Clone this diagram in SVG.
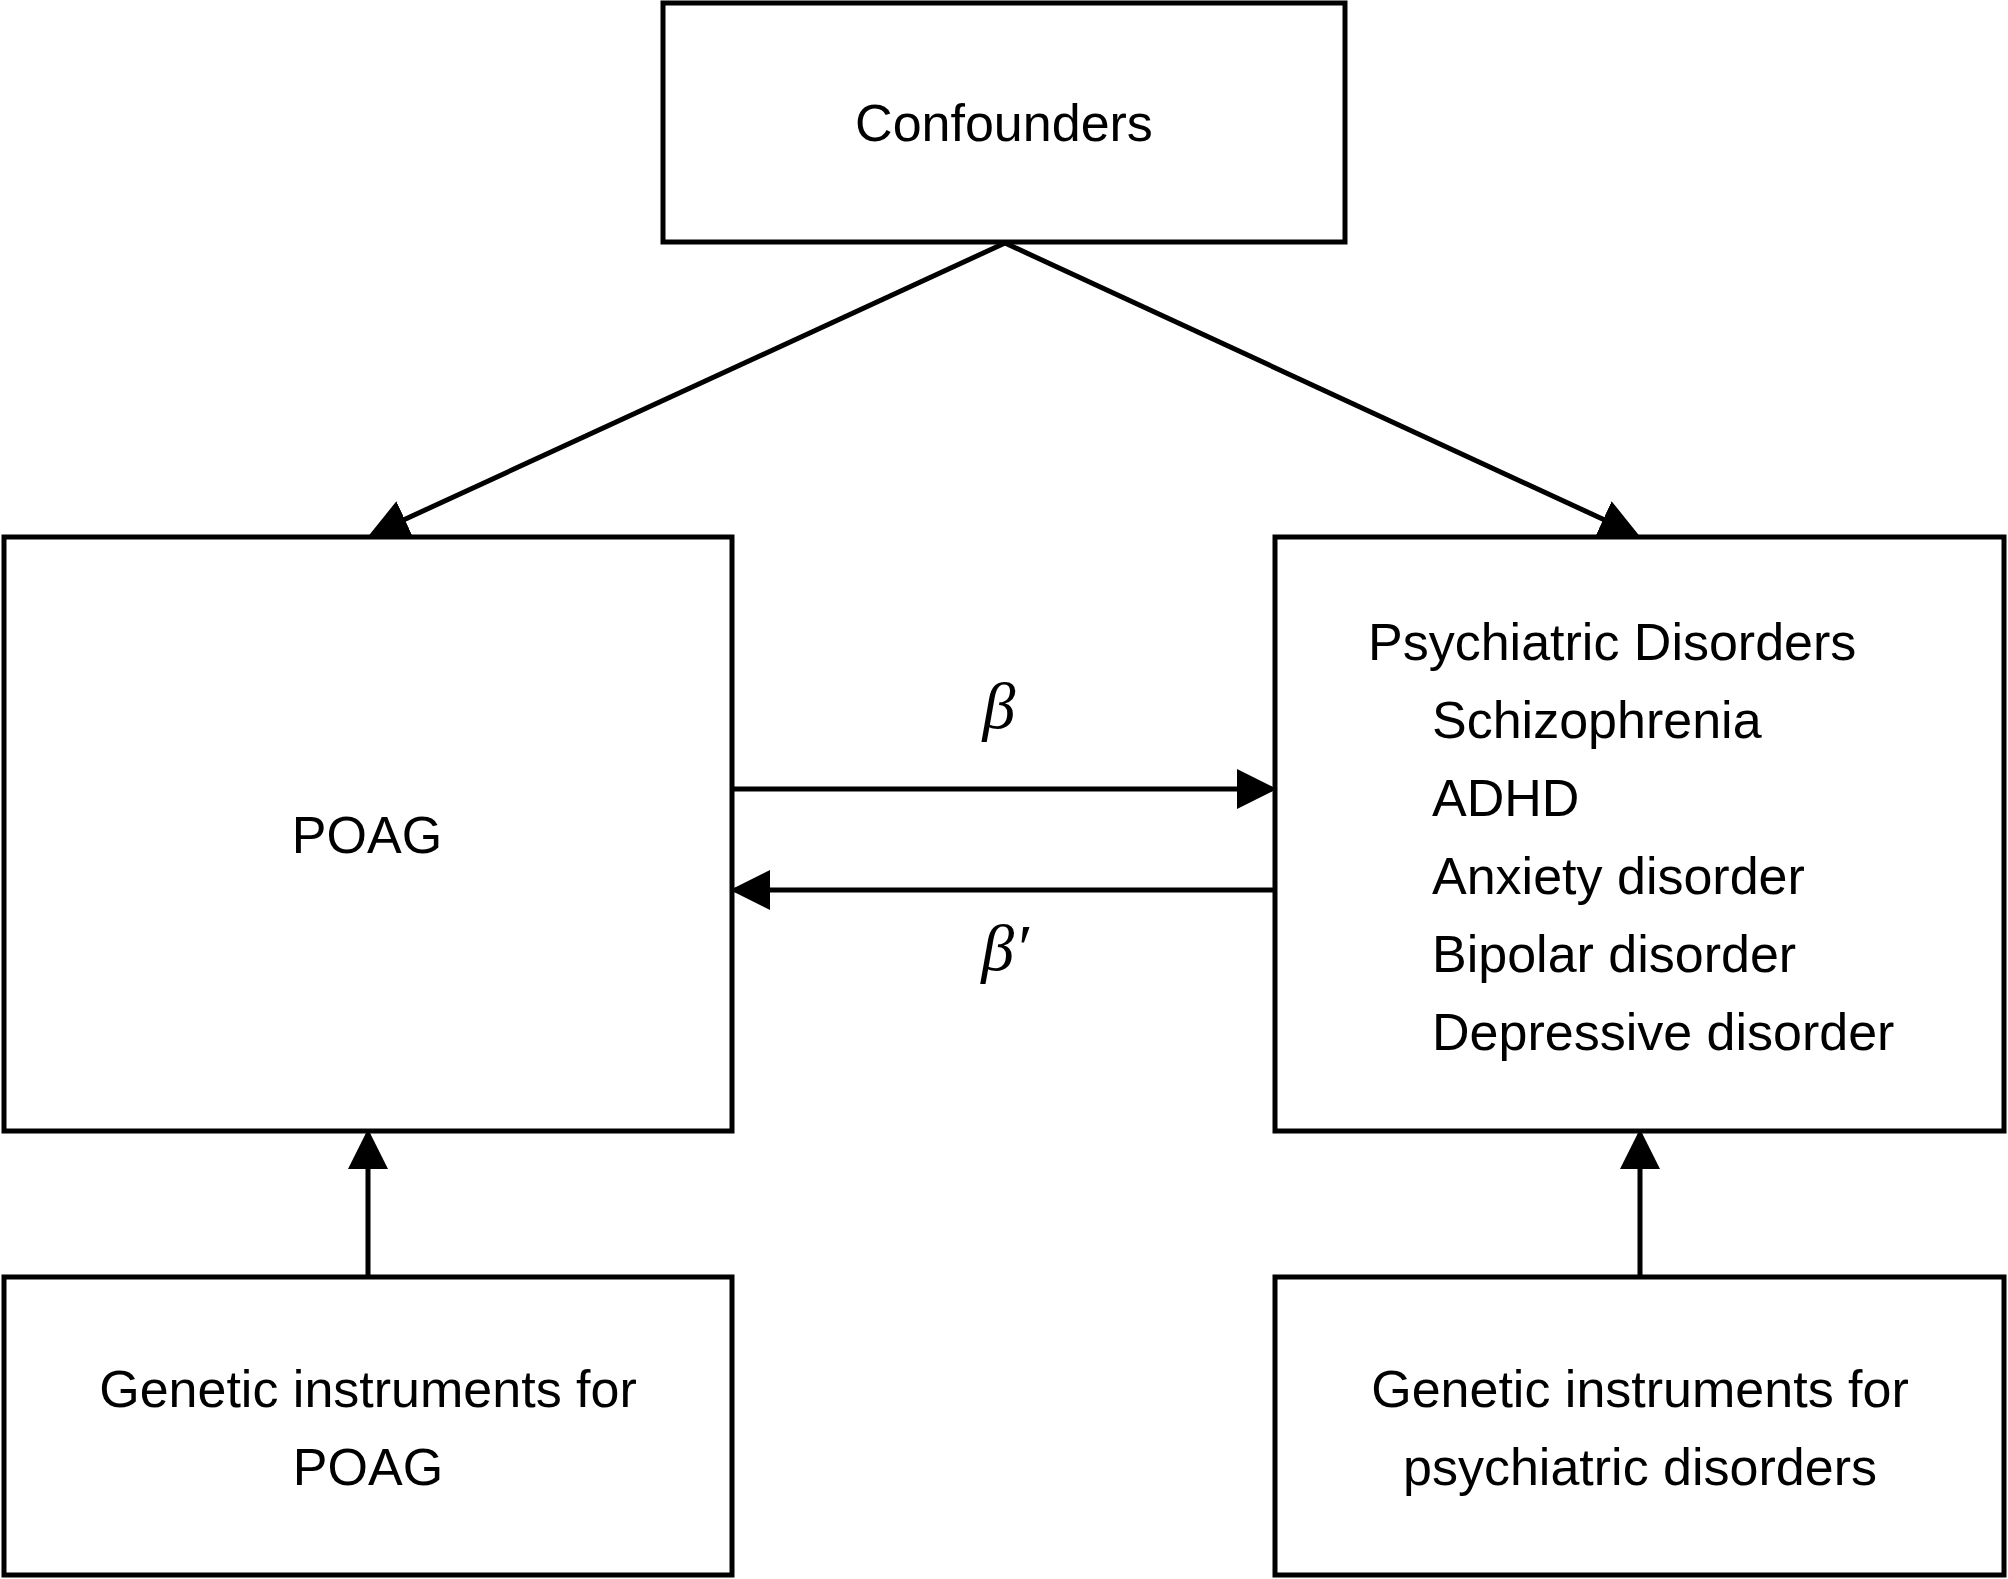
<svg xmlns="http://www.w3.org/2000/svg" width="2008" height="1579" viewBox="0 0 2008 1579">
<style>
.b{fill:#fff;stroke:#000;stroke-width:5}
.t{font-family:"Liberation Sans",Arial,sans-serif;font-size:52px;fill:#000}
.c{text-anchor:middle}
.g{font-family:"Liberation Serif",serif;font-style:italic;font-size:66px;text-anchor:middle}
.l{stroke:#000;stroke-width:5;fill:none}
</style>
<defs><marker id="a" markerWidth="8" markerHeight="8" refX="7" refY="4" orient="auto" markerUnits="strokeWidth"><path d="M0,0 L8,4 L0,8 Z"/></marker></defs>
<rect width="2008" height="1579" fill="#fff"/>
<g id="connectors">
<line class="l" x1="1005" y1="243" x2="373" y2="534" marker-end="url(#a)"/>
<line class="l" x1="1005" y1="243" x2="1635" y2="534" marker-end="url(#a)"/>
<line class="l" x1="733" y1="789" x2="1272" y2="789" marker-end="url(#a)"/>
<line class="l" x1="1274" y1="890" x2="735" y2="890" marker-end="url(#a)"/>
<line class="l" x1="368" y1="1276" x2="368" y2="1134" marker-end="url(#a)"/>
<line class="l" x1="1640" y1="1276" x2="1640" y2="1134" marker-end="url(#a)"/>
<text class="g" x="999" y="728">β</text>
<text class="g" x="1005" y="970">β′</text>
</g>
<g id="confounders"><rect class="b" x="663" y="3" width="682" height="239"/><text class="t c" x="1004" y="141">Confounders</text></g>
<g id="poag"><rect class="b" x="4" y="537" width="728" height="594"/><text class="t c" x="367" y="853">POAG</text></g>
<g id="psych"><rect class="b" x="1275" y="537" width="729" height="594"/>
<text class="t" x="1368" y="660">Psychiatric Disorders</text>
<text class="t" x="1432" y="738">Schizophrenia</text>
<text class="t" x="1432" y="816">ADHD</text>
<text class="t" x="1432" y="894">Anxiety disorder</text>
<text class="t" x="1432" y="972">Bipolar disorder</text>
<text class="t" x="1432" y="1050">Depressive disorder</text></g>
<g id="gen-poag"><rect class="b" x="4" y="1277" width="728" height="298"/><text class="t c" x="368" y="1407">Genetic instruments for</text><text class="t c" x="368" y="1485">POAG</text></g>
<g id="gen-psych"><rect class="b" x="1275" y="1277" width="729" height="298"/><text class="t c" x="1640" y="1407">Genetic instruments for</text><text class="t c" x="1640" y="1485">psychiatric disorders</text></g>
</svg>
